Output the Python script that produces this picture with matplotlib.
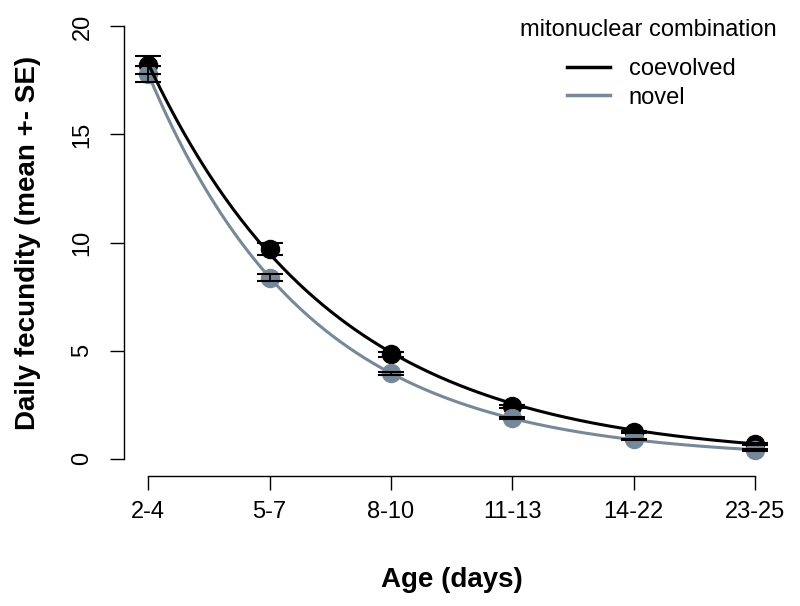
import numpy as np
import matplotlib
matplotlib.use("Agg")
import matplotlib.pyplot as plt
from matplotlib.lines import Line2D

plt.rcParams['font.family'] = ['Liberation Sans', 'DejaVu Sans']

age_labels = ["2-4", "5-7", "8-10", "11-13", "14-22", "23-25"]
coev_mean = [18.2, 9.7, 4.83, 2.43, 1.25, 0.68]
coev_se = [0.42, 0.28, 0.11, 0.07, 0.05, 0.04]
novel_mean = [17.8, 8.38, 3.95, 1.88, 0.9, 0.4]
novel_se = [0.35, 0.18, 0.08, 0.04, 0.03, 0.03]

col_coev = "black"
col_novel = "#778899"

x = np.arange(1, len(age_labels) + 1)

fig = plt.figure(figsize=(8.0, 6.06), dpi=100)
ax = fig.add_axes([0.155, 0.2145, 0.819, 0.7705])

def fit_curve(xv, yv):
    yv = np.asarray(yv)
    b, a = np.polyfit(xv, np.log(yv), 1, w=yv)
    xs = np.linspace(1, 6, 300)
    return xs, np.exp(a + b * xs)

# points
ax.plot(x, coev_mean, 'o', color=col_coev, ms=13, zorder=2)
ax.plot(x, novel_mean, 'o', color=col_novel, ms=13, zorder=2)

# fitted curves
xs, yc = fit_curve(x, coev_mean)
ax.plot(xs, yc, color=col_coev, lw=2.2, zorder=3)
xs, yn = fit_curve(x, novel_mean)
ax.plot(xs, yn, color=col_novel, lw=2.2, zorder=3)

# error bars
ax.errorbar(x, coev_mean, yerr=coev_se, fmt='none', ecolor='black',
            elinewidth=1.2, capsize=9.5, capthick=1.5, zorder=4)
ax.errorbar(x, novel_mean, yerr=novel_se, fmt='none', ecolor='black',
            elinewidth=1.2, capsize=9.5, capthick=1.5, zorder=4)

ax.set_xlim(0.8, 6.2)
ax.set_ylim(-0.8, 20.8)

for s in ['top', 'right']:
    ax.spines[s].set_visible(False)
ax.spines['left'].set_bounds(0, 20)
ax.spines['bottom'].set_bounds(1, 6)
for s in ['left', 'bottom']:
    ax.spines[s].set_linewidth(1.0)

ax.set_xticks(x)
ax.set_xticklabels(age_labels)
ax.set_yticks([0, 5, 10, 15, 20])
ax.set_yticklabels(["0", "5", "10", "15", "20"], rotation=90, va='center')
ax.tick_params(axis='both', direction='out', length=10, width=1.0, labelsize=17)
ax.tick_params(axis='x', pad=8)
ax.tick_params(axis='y', pad=12)

ax.set_xlabel("Age (days)", fontsize=20, fontweight='bold', labelpad=32)
ax.set_ylabel("Daily fecundity (mean +- SE)", fontsize=20, fontweight='bold', labelpad=22)

fig.text(648 / 800, 1 - 30 / 606, "mitonuclear combination", fontsize=17,
         ha='center', va='center')
handles = [Line2D([0], [0], color=col_coev, lw=2.5),
           Line2D([0], [0], color=col_novel, lw=2.5)]
leg = fig.legend(handles, ["coevolved", "novel"],
                 loc='upper left', bbox_to_anchor=(567 / 800, 1 - 58 / 606),
                 bbox_transform=fig.transFigure, frameon=False,
                 fontsize=17, handlelength=1.82, borderaxespad=0, borderpad=0,
                 handletextpad=0.8, labelspacing=0.28)

fig.savefig("out.png", dpi=100)
